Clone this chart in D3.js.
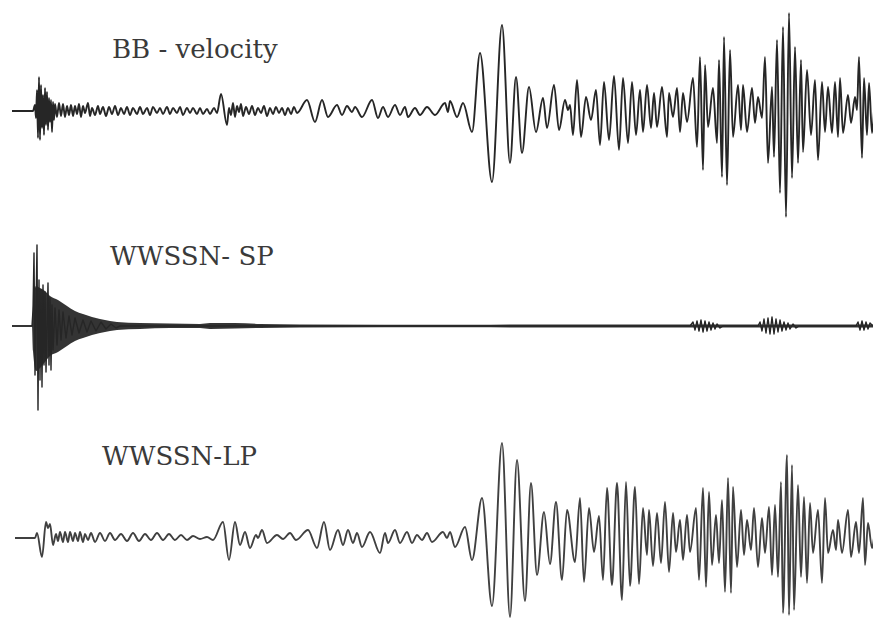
<!DOCTYPE html>
<html>
<head>
<meta charset="utf-8">
<script src="https://cdn.jsdelivr.net/npm/d3@7"></script>
<style>
  html, body { margin: 0; padding: 0; background: #fff; }
  svg { display: block; }
  .label { font-family: 'DejaVu Serif', 'Liberation Serif', serif; font-size: 26px; fill: #3a3a3a; }
</style>
</head>
<body>
<div id="container"></div>
<script>
// trace names, as printed on the figure
var traceNames = ['BB - velocity', 'WWSSN- SP', 'WWSSN-LP'];

// turning points [time (s), amplitude]
var bbTrace = [
  [2,0],[23,0],[25,6],[26,-7],[27,21],[28,-27],[29,34],[30,-29],[31,26],[32,-17],[33,16],[34,-24],[35,23],[36,-14],[37,19],[38,-19],
  [39,13],[40,-11],[41,11],[42,-21],[43,9],[44,-9],[45,7],[47,-6],[49,8],[51,-5],[53,7],[55,-6],[57,5],[59,-4],[61,6],[63,-5],
  [65,5],[67,-3],[69,7],[71,-6],[73,5],[75,-2],[78,8],[80,-5],[82,3],[85,-4],[88,5],[90,-3],[93,4],[96,-5],[99,4],[102,-3],
  [105,5],[108,-4],[111,3],[114,-3],[117,4],[120,-4],[123,3],[127,-3],[130,4],[133,-3],[137,3],[140,-4],[143,4],[147,-2],
  [150,3],[153,-3],[157,4],[160,-3],[163,3],[167,-2],[170,4],[173,-4],[177,3],[180,-2],[183,3],[187,-3],[190,3],[193,-3],
  [197,2],[200,-3],[204,3],[207,-2],[211,17],[217,-14],[219,3],[221,-4],[223,8],[225,-6],[227,5],[229,-1],[231,7],[233,-5],
  [236,4],[239,-3],[242,5],[245,-4],[248,3],[251,-2],[254,5],[257,-5],[260,3],[263,-3],[266,4],[269,-2],[272,3],[275,-4],
  [278,3],[281,-3],[284,4],[287,-2],[297,11],[305,-11],[312,11],[318,-6],[327,6],[332,-4],[337,5],[342,-1],[345,4],[352,-6],
  [362,11],[368,-7],[373,4],[378,-6],[385,6],[390,-4],[395,4],[398,-6],[405,3],[410,-4],[417,4],[425,-4],[435,8],[438,-1],
  [440,10],[447,-6],[453,8],[462,-21],[470,58],[482,-71],[492,86],[500,-52],[506,34],[512,-42],[519,24],[526,-21],[533,13],
  [537,-17],[544,26],[549,-19],[555,11],[558,1],[560,6],[563,-24],[567,31],[571,-26],[576,14],[581,-9],[586,21],[590,-34],
  [594,29],[599,-29],[604,35],[609,-39],[613,33],[618,-32],[622,29],[626,-24],[630,21],[633,-21],[637,26],[641,-17],[644,18],
  [647,-16],[652,24],[657,-26],[659,18],[663,-6],[667,23],[670,-21],[673,18],[677,-11],[683,33],[687,-36],[690,54],[693,-59],
  [695,46],[698,-16],[703,23],[707,-32],[709,51],[712,-66],[714,74],[717,-74],[720,61],[723,-26],[728,26],[731,-19],[733,26],
  [737,-21],[742,23],[745,-12],[748,14],[752,-7],[755,54],[758,-52],[762,24],[764,-46],[767,71],[770,-82],[773,84],[776,-106],
  [779,98],[782,-67],[785,64],[788,-52],[791,51],[793,-41],[797,41],[801,-24],[805,31],[808,-49],[812,29],[815,-21],[818,24],
  [822,-22],[825,29],[828,-26],[830,33],[833,-22],[838,16],[841,-12],[845,14],[847,1],[849,54],[852,-47],[854,33],[857,-24],
  [859,28],[862,-22],[864,0]
];

var spTrace = [
  [2,0],[22,0],[23,16],[24,73],[25,-49],[27,81],[28,-84],[29,46],[30,-54],[31,36],[32,-61],[33,41],[34,-39],[35,34],[36,-46],
  [38,43],[39,-39],[40,28],[41,-44],[42,21],[43,-24],[45,18],[47,-19],[49,16],[51,-14],[53,14],[56,-12],[59,10],[62,-9],
  [65,8],[69,-7],[73,6],[77,-6],[81,5],[86,-5],[91,4],[96,-3],[101,2],[106,-2],[110,0],
  [680,0],[683,4],[685,-4],[687,5],[689,-5],[691,6],[693,-6],[695,5],[697,-5],[699,4],[701,-4],[703,3],[705,-3],[707,2],
  [710,-2],[713,0],[748,0],[750,4],[752,-5],[754,7],[756,-7],[758,8],[760,-8],[762,9],[764,-8],[766,7],[768,-6],[770,6],
  [772,-5],[774,4],[776,-4],[778,3],[780,-3],[783,2],[786,-2],[789,0],[846,0],[848,4],[850,-4],[852,5],[854,-4],[856,4],
  [858,-3],[860,3],[863,0]
];

// envelope of the dense short-period wiggles [time, upper, lower]
var spEnvelope = [
  [2,0.8,-0.8],[22,0.8,-0.8],[23,20,-25],[26,40,-45],[30,38,-42],[35,35,-36],[40,30,-30],[48,26,-26],[57,20,-20],
  [65,15,-15],[73,12,-12],[82,9,-9],[90,7,-7],[100,5,-5],[107,4,-4],[130,3,-3],[160,2.5,-2],[190,2,-2],[200,3,-3],
  [225,3,-2.5],[250,2,-2],[290,1.5,-1.5],[460,1.2,-1.2],[520,1.5,-1.5],[863,1.5,-1.5]
];

var lpTrace = [
  [5,0],[25,0],[27,5],[32,-19],[36,16],[38,10],[40,14],[43,-7],[46,4],[48,-3],[50,6],[53,-4],[55,6],[58,-4],[60,6],[63,-3],
  [65,5],[68,-3],[70,6],[73,-4],[75,4],[78,-2],[81,5],[85,-4],[90,5],[95,-3],[100,5],[105,-2],[111,4],[117,-3],[123,5],
  [129,-3],[135,4],[141,-2],[147,5],[153,-2],[159,4],[165,-2],[171,3],[177,-2],[183,2],[190,-1],[197,1],[203,-2],[213,16],
  [219,-22],[225,16],[230,-7],[235,6],[240,-10],[246,3],[248,0],[252,8],[257,-5],[267,3],[273,-1],[280,5],[286,-2],[298,8],
  [307,-10],[314,16],[320,-12],[328,8],[333,-7],[338,8],[343,-5],[347,5],[352,-9],[360,6],[370,-15],[375,5],[378,-5],
  [385,8],[390,-5],[397,6],[402,-5],[407,3],[412,-2],[417,5],[422,-4],[433,6],[437,0],[440,6],[445,-9],[455,11],[462,-22],
  [472,40],[482,-68],[492,95],[500,-79],[507,78],[515,-63],[521,55],[527,-37],[534,26],[540,-26],[546,36],[552,-42],
  [557,28],[565,-24],[570,40],[574,-44],[579,30],[584,-14],[589,22],[593,-42],[597,50],[602,-47],[607,55],[612,-62],
  [616,56],[620,-48],[625,51],[629,-46],[633,30],[637,-17],[639,28],[643,-28],[647,25],[651,-25],[655,36],[659,-34],
  [663,25],[666,-14],[670,18],[673,-22],[677,23],[680,-14],[686,30],[689,-42],[693,50],[696,-49],[699,46],[702,-27],
  [706,23],[709,-25],[712,38],[715,-54],[718,60],[721,-55],[723,51],[727,-29],[731,28],[734,-17],[737,18],[741,-12],
  [744,30],[748,-29],[752,20],[755,-15],[759,31],[762,-37],[765,33],[768,-39],[771,56],[773,-75],[777,83],[779,-77],
  [782,73],[784,-72],[788,53],[791,-39],[794,41],[797,-45],[800,35],[803,-15],[808,28],[812,-45],[815,40],[818,-15],
  [823,8],[826,-12],[828,18],[832,-15],[838,28],[841,-19],[846,16],[849,-15],[853,40],[855,-27],[858,15],[862,-10],[864,0]
];

var width = 873, height = 619;

var svg = d3.select('#container').append('svg')
    .attr('width', width)
    .attr('height', height);

svg.append('rect').attr('width', width).attr('height', height).attr('fill', '#fff');

var x = d3.scaleLinear().domain([0, 864]).range([10, 874]);

// one panel per trace: baseline of the trace and where its name sits
var panels = [
  { name: traceNames[0], base: 111, labelX: 112, labelY: 58, data: bbTrace, curve: d3.curveMonotoneX, color: '#262626', w: 1.9 },
  { name: traceNames[1], base: 326, labelX: 110, labelY: 265, data: spTrace, curve: d3.curveLinear, color: '#262626', w: 1.4 },
  { name: traceNames[2], base: 538, labelX: 102, labelY: 465, data: lpTrace, curve: d3.curveMonotoneX, color: '#404040', w: 1.9 }
];

panels.forEach(function (p, i) {
  var y = d3.scaleLinear().domain([-110, 110]).range([p.base + 110, p.base - 110]);
  var g = svg.append('g').attr('class', 'trace');

  if (i === 1) {
    var env = d3.area()
      .x(function (d) { return x(d[0]); })
      .y0(function (d) { return y(d[2]); })
      .y1(function (d) { return y(d[1]); })
      .curve(d3.curveMonotoneX);
    g.append('path').datum(spEnvelope)
      .attr('d', env)
      .attr('fill', '#1e1e1e')
      .attr('fill-opacity', 0.9);
  }

  var line = d3.line()
    .x(function (d) { return x(d[0]); })
    .y(function (d) { return y(d[1]); })
    .curve(p.curve);

  g.append('path').datum(p.data)
    .attr('d', line)
    .attr('fill', 'none')
    .attr('stroke', p.color)
    .attr('stroke-width', p.w)
    .attr('stroke-linejoin', 'round');

  svg.append('text')
    .attr('class', 'label')
    .attr('x', p.labelX)
    .attr('y', p.labelY)
    .text(p.name);
});
</script>
</body>
</html>
